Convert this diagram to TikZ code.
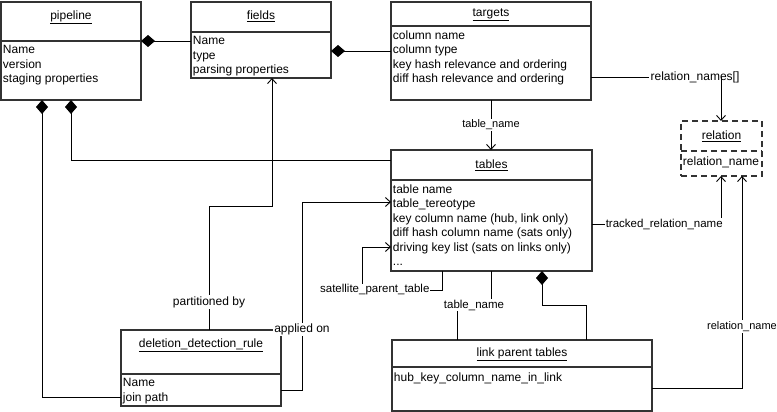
\documentclass[tikz,border=0pt]{standalone}
\usepackage{fontspec}
\setmainfont{Liberation Sans}
\usetikzlibrary{arrows.meta}

\tikzset{
  entity/.style={draw=black!80, line width=2pt, anchor=north west, inner sep=0pt, outer sep=0pt},
  relbox/.style={entity, dash pattern=on 6pt off 4pt},
  divline/.style={draw=black!80, line width=2pt},
  headtext/.style={font=\fontsize{12}{14.5}\selectfont, inner sep=0pt},
  attrtext/.style={anchor=north west, align=left, font=\fontsize{12}{14.5}\selectfont,
    inner xsep=1.5pt, inner ysep=4pt, execute at begin node=\strut},
  lbl/.style={fill=white, font=\fontsize{11.5}{13}\selectfont, inner sep=1pt},
  lblbig/.style={lbl, font=\fontsize{12}{14}\selectfont},
  lblsmall/.style={lbl, font=\fontsize{11}{13}\selectfont},
  owns/.style={{Diamond[length=14pt,width=12pt]}-},
}

\begin{document}
\begin{tikzpicture}[x=1pt, y=-1pt, line width=0.9pt,
    >={Straight Barb[length=5pt,width=9pt]}]
  \useasboundingbox (0,0) rectangle (777,412);

  % entities
  \node[entity, minimum width=140, minimum height=98] (pipeline) at (1,2) {};
  \draw[divline] (pipeline.west |- 0,41) -- (pipeline.east |- 0,41);
  \node[headtext] (pipeline-t) at (71,17) {\underline{pipeline}};
  \node[attrtext] (pipeline-a) at (pipeline.west |- 0,41) {Name\\version\\staging properties};

  \node[entity, minimum width=140, minimum height=76] (fields) at (191,2) {};
  \draw[divline] (fields.west |- 0,32) -- (fields.east |- 0,32);
  \node[headtext] (fields-t) at (261,16) {\underline{fields}};
  \node[attrtext] (fields-a) at (fields.west |- 0,32) {Name\\type\\parsing properties};

  \node[entity, minimum width=200, minimum height=98] (targets) at (391,2) {};
  \draw[divline] (targets.west |- 0,26) -- (targets.east |- 0,26);
  \node[headtext] (targets-t) at (491,15) {\underline{targets}};
  \node[attrtext] (targets-a) at (targets.west |- 0,26) {column name\\column type\\key hash relevance and ordering\\diff hash relevance and ordering};

  \node[entity, minimum width=201, minimum height=121] (tables) at (391,150) {};
  \draw[divline] (tables.west |- 0,180) -- (tables.east |- 0,180);
  \node[headtext] (tables-t) at (491.5,165) {\underline{tables}};
  \node[attrtext] (tables-a) at (tables.west |- 0,180) {table name\\table\_tereotype\\key column name (hub, link only)\\diff hash column name (sats only)\\driving key list (sats on links only)\\...};

  \node[relbox, minimum width=81, minimum height=55] (relation) at (681,121) {};
  \draw[divline, dash pattern=on 6pt off 4pt] (relation.west |- 0,151) -- (relation.east |- 0,151);
  \node[headtext] (relation-t) at (721.5,136) {\underline{relation}};
  \node[attrtext] (relation-a) at (relation.west |- 0,151) {relation\_name};

  \node[entity, minimum width=160, minimum height=76] (ddrule) at (121,330) {};
  \draw[divline] (ddrule.west |- 0,374) -- (ddrule.east |- 0,374);
  \node[headtext] (ddrule-t) at (201,345) {\underline{deletion\_detection\_rule}};
  \node[attrtext] (ddrule-a) at (ddrule.west |- 0,374) {Name\\join path};

  \node[entity, minimum width=260, minimum height=71] (link) at (392,340) {};
  \draw[divline] (link.west |- 0,367) -- (link.east |- 0,367);
  \node[headtext] (link-t) at (522,354) {\underline{link parent tables}};
  \node[attrtext] (link-a) at (link.west |- 0,367) {hub\_key\_column\_name\_in\_link};

  % compositions
  \draw[owns] (pipeline.east |- 0,41) -- (fields.west |- 0,41);
  \draw[owns] (fields.east |- 0,51) -- (targets.west |- 0,51);
  \draw[owns] (pipeline.south -| 42,0) |- (ddrule.west |- 0,397);
  \draw[owns] (pipeline.south -| 71,0) |- (tables.west |- 0,160);
  \draw[owns] (tables.south -| 542,0) |- (586,305) -- (link.north -| 586,0);

  % references
  \draw[->] (targets.south -| 491,0) -- node[lblsmall] (l-tname) {table\_name} (tables.north -| 491,0);
  \node[lblbig] (l-rnames) at (695,77) {relation\_names[]};
  \draw (targets.east |- l-rnames.west) -- (l-rnames.west);
  \draw[->] (l-rnames.center -| 721,0) -- (relation.north -| 721,0);
  \draw[->] (tables.east |- 0,224) -| node[lbl, pos=0.28] (l-tracked) {tracked\_relation\_name} (relation.south -| 721,0);
  \draw[->] (link.east |- 0,388) -| node[lblsmall, pos=0.645] (l-rname) {relation\_name} (relation.south -| 742,0);
  \draw (tables.south -| 491,0) |- node[lbl, pos=0.75] (l-tname2) {table\_name} (457,305) -- (link.north -| 457,0);
  \draw[->] (tables.south -| 442,0) |- node[lbl, pos=0.92] (l-sat) {satellite\_parent\_table} (362,290) |- (tables.west |- 0,247);
  \draw[->] (ddrule.east |- 0,390) -- (302,390) -- node[lblbig, pos=0.32] (l-applied) {applied on} (302,202) -- (tables.west |- 0,202);
  \draw[->] (ddrule.north -| 209,0) -- node[lblbig, pos=0.226] (l-part) {partitioned by} (209,206) -| (fields.south -| 272,0);
\end{tikzpicture}
\end{document}
